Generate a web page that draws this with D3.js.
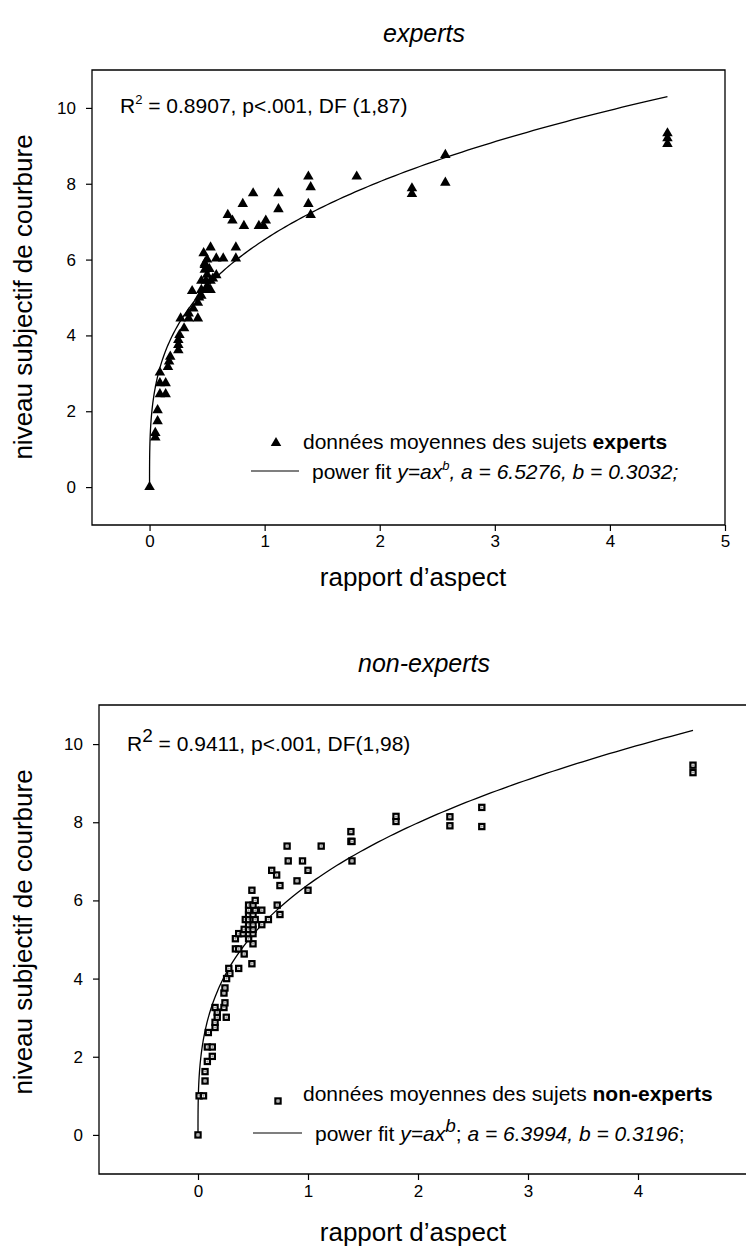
<!DOCTYPE html>
<html>
<head>
<meta charset="utf-8">
<script src="https://cdnjs.cloudflare.com/ajax/libs/d3/7.8.5/d3.min.js"></script>
<style>
body { margin: 0; background: #fff; }
svg { display: block; font-family: "Liberation Sans", Arial, Helvetica, sans-serif; }
</style>
</head>
<body>
<svg id="chart" width="746" height="1254"></svg>
<script>
// mean subjective curvature per aspect ratio, experts
var expertsPoints = [
    [0, 0], [0.05, 1.31], [0.05, 1.43], [0.07, 1.74], [0.07, 2.03],
    [0.09, 2.45], [0.14, 2.45], [0.09, 2.74], [0.14, 2.74], [0.09, 3.02],
    [0.16, 3.17], [0.17, 3.31], [0.18, 3.44], [0.25, 3.61], [0.25, 3.75],
    [0.25, 3.88], [0.26, 4.01], [0.30, 4.19], [0.27, 4.45], [0.34, 4.45],
    [0.42, 4.45], [0.34, 4.58], [0.38, 4.71], [0.42, 4.86], [0.43, 5.0],
    [0.45, 5.05], [0.37, 5.17], [0.45, 5.2], [0.49, 5.2], [0.53, 5.2],
    [0.5, 5.3], [0.45, 5.44], [0.49, 5.44], [0.53, 5.44], [0.55, 5.5],
    [0.58, 5.59], [0.5, 5.6], [0.48, 5.73], [0.52, 5.75], [0.48, 5.86],
    [0.48, 5.9], [0.5, 6.0], [0.47, 6.17], [0.53, 6.32], [0.58, 6.03],
    [0.64, 6.03], [0.75, 6.03], [0.75, 6.32], [0.68, 7.18], [0.72, 7.03],
    [0.81, 7.47], [0.82, 6.89], [0.90, 7.75], [0.95, 6.89], [0.99, 6.89],
    [1.01, 7.03], [1.12, 7.75], [1.12, 7.33], [1.38, 8.19], [1.40, 7.91],
    [1.38, 7.47], [1.40, 7.18], [1.80, 8.19], [2.28, 7.88], [2.28, 7.73],
    [2.57, 8.76], [2.57, 8.03], [4.5, 9.33], [4.5, 9.20], [4.5, 9.05]
];

// same, non-experts
var nonExpertsPoints = [
    [0, 0], [0.01, 1.0], [0.05, 1.0], [0.064, 1.38], [0.064, 1.62],
    [0.085, 1.88], [0.13, 2.01], [0.085, 2.25], [0.13, 2.25], [0.094, 2.62],
    [0.155, 2.75], [0.155, 2.88], [0.175, 3.01], [0.257, 3.01], [0.175, 3.14],
    [0.155, 3.26], [0.236, 3.26], [0.245, 3.38], [0.236, 3.63], [0.245, 3.76],
    [0.26, 4.0], [0.29, 4.13], [0.28, 4.26], [0.37, 4.26], [0.49, 4.38],
    [0.42, 4.63], [0.34, 4.76], [0.37, 4.76], [0.5, 4.89], [0.34, 5.02],
    [0.46, 5.02], [0.37, 5.15], [0.41, 5.15], [0.46, 5.15], [0.5, 5.15],
    [0.42, 5.26], [0.46, 5.26], [0.5, 5.26], [0.46, 5.38], [0.5, 5.38],
    [0.58, 5.38], [0.43, 5.51], [0.46, 5.51], [0.5, 5.51], [0.52, 5.51],
    [0.64, 5.51], [0.46, 5.64], [0.5, 5.64], [0.745, 5.64], [0.46, 5.75],
    [0.52, 5.75], [0.58, 5.75], [0.46, 5.88], [0.5, 5.88], [0.72, 5.88],
    [0.52, 6.0], [0.49, 6.26], [1.0, 6.26], [0.745, 6.38], [0.9, 6.5],
    [0.715, 6.65], [0.67, 6.77], [1.0, 6.77], [0.82, 7.01], [0.95, 7.01],
    [1.40, 7.01], [0.81, 7.39], [1.12, 7.39], [1.39, 7.51], [1.40, 7.51],
    [1.39, 7.76], [1.80, 8.02], [1.80, 8.15], [2.29, 7.91], [2.29, 8.14],
    [2.58, 7.89], [2.58, 8.38], [4.5, 9.27], [4.5, 9.46]
];

var yTicks = [0, 2, 4, 6, 8, 10];
var xTicksExperts = [0, 1, 2, 3, 4, 5];
var xTicksNonExperts = [0, 1, 2, 3, 4];

// power fit y = a * x^b
var fitExperts = [6.5276, 0.3032];
var fitNonExperts = [6.3994, 0.3196];
var fitMaxX = 4.5;

var svg = d3.select("#chart");

function drawPanel(p) {
    var x = d3.scaleLinear().domain(p.xDomain).range([p.left, p.right]);
    var y = d3.scaleLinear().domain([-1, 11]).range([p.bottom, p.top]);
    var g = svg.append("g");

    // frame
    g.append("path")
      .attr("fill", "none")
      .attr("stroke", "black")
      .attr("stroke-width", 1.3)
      .attr("d", "M " + p.left + " " + p.top + " H " + p.right + " V " + p.bottom + " H " + p.left + " Z");

    var xAxis = d3.axisBottom(x).tickValues(p.xTicks).tickSize(6).tickPadding(p.xPad).tickFormat(d3.format("d"));
    var gx = g.append("g").attr("transform", "translate(0," + p.bottom + ")").call(xAxis);
    gx.select(".domain").remove();
    gx.selectAll("line").attr("stroke-width", 1.2);
    gx.selectAll("text").attr("font-size", 17).attr("font-family", null);

    var yAxis = d3.axisLeft(y).tickValues(yTicks).tickSize(6).tickPadding(10).tickFormat(d3.format("d"));
    var gy = g.append("g").attr("transform", "translate(" + p.left + ",0)").call(yAxis);
    gy.select(".domain").remove();
    gy.selectAll("line").attr("stroke-width", 1.2);
    gy.selectAll("text").attr("font-size", 17).attr("font-family", null);

    // fit curve, dense near zero where it rises steeply
    var xs = d3.range(0, 1.0001, 0.005).map(function(t) { return fitMaxX * t * t * t; });
    var line = d3.line()
      .x(function(d) { return x(d); })
      .y(function(d) { return y(p.fit[0] * Math.pow(d, p.fit[1])); });
    g.append("path")
      .datum(xs)
      .attr("fill", "none")
      .attr("stroke", "black")
      .attr("stroke-width", 1.3)
      .attr("d", line);

    // points
    if (p.marker == "triangle") {
        g.selectAll(".pt").data(p.points).enter()
          .append("path")
          .attr("transform", function(d) { return "translate(" + x(d[0]) + "," + y(d[1]) + ")"; })
          .attr("d", d3.symbol(d3.symbolTriangle).size(48))
          .attr("fill", "black");
    } else {
        var pts = g.selectAll(".pt").data(p.points).enter()
          .append("g")
          .attr("transform", function(d) { return "translate(" + x(d[0]) + "," + y(d[1]) + ")"; });
        squareMarker(pts);
    }

    // titles
    svg.append("text")
      .attr("x", p.titleX).attr("y", p.titleY)
      .attr("text-anchor", "middle")
      .attr("font-size", 25)
      .attr("font-style", "italic")
      .text(p.title);

    svg.append("text")
      .attr("x", 413).attr("y", p.xTitleY)
      .attr("text-anchor", "middle")
      .attr("font-size", 26)
      .text("rapport d\u2019aspect");

    svg.append("text")
      .attr("transform", "translate(32," + p.yTitleY + ") rotate(-90)")
      .attr("text-anchor", "middle")
      .attr("font-size", 26)
      .text("niveau subjectif de courbure");

    // stats
    var st = svg.append("text")
      .attr("x", p.statsX).attr("y", p.statsY)
      .attr("font-size", 21);
    st.append("tspan").text("R");
    st.append("tspan").attr("font-size", p.supSize).attr("dy", -9).text("2");
    st.append("tspan").attr("dy", 9).text(p.stats);
}

function squareMarker(sel) {
    sel.append("rect")
      .attr("x", -2.6).attr("y", -2.6)
      .attr("width", 5.2).attr("height", 5.2)
      .attr("fill", "white")
      .attr("stroke", "black")
      .attr("stroke-width", 2.2);
    sel.append("circle")
      .attr("r", 1)
      .attr("fill", "#999");
}

drawPanel({
    left: 92, right: 725, top: 70, bottom: 525,
    xDomain: [-0.5, 5], xTicks: xTicksExperts, xPad: 4,
    points: expertsPoints, fit: fitExperts, marker: "triangle",
    title: "experts", titleX: 424, titleY: 42,
    xTitleY: 586, yTitleY: 297,
    statsX: 120, statsY: 113, supSize: 13,
    stats: " = 0.8907, p<.001, DF (1,87)"
});

drawPanel({
    left: 99, right: 759, top: 705, bottom: 1174,
    xDomain: [-0.9, 5.1], xTicks: xTicksNonExperts, xPad: 5,
    points: nonExpertsPoints, fit: fitNonExperts, marker: "square",
    title: "non-experts", titleX: 424, titleY: 672,
    xTitleY: 1241, yTitleY: 932,
    statsX: 127, statsY: 751, supSize: 19,
    stats: " = 0.9411, p<.001, DF(1,98)"
});

// legend, experts
svg.append("path")
  .attr("transform", "translate(276,443)")
  .attr("d", d3.symbol(d3.symbolTriangle).size(48));
var l1 = svg.append("text").attr("x", 303).attr("y", 449).attr("font-size", 21);
l1.append("tspan").text("donn\u00e9es moyennes des sujets ");
l1.append("tspan").attr("font-weight", "bold").text("experts");
svg.append("line")
  .attr("x1", 251).attr("x2", 299).attr("y1", 471).attr("y2", 471)
  .attr("stroke", "black").attr("stroke-width", 1.2);
var l2 = svg.append("text").attr("x", 312).attr("y", 479).attr("font-size", 21);
l2.append("tspan").text("power fit ");
l2.append("tspan").attr("font-style", "italic").text("y=ax");
l2.append("tspan").attr("font-style", "italic").attr("font-size", 13).attr("dy", -9).text("b");
l2.append("tspan").attr("font-style", "italic").attr("dy", 9).text(", a = 6.5276, b = 0.3032;");

// legend, non-experts
var lg = svg.append("g").attr("transform", "translate(278,1101)");
squareMarker(lg);
var l3 = svg.append("text").attr("x", 303).attr("y", 1101).attr("font-size", 21);
l3.append("tspan").text("donn\u00e9es moyennes des sujets ");
l3.append("tspan").attr("font-weight", "bold").text("non-experts");
svg.append("line")
  .attr("x1", 253).attr("x2", 302).attr("y1", 1133).attr("y2", 1133)
  .attr("stroke", "black").attr("stroke-width", 1.2);
var l4 = svg.append("text").attr("x", 315).attr("y", 1141).attr("font-size", 21);
l4.append("tspan").text("power fit ");
l4.append("tspan").attr("font-style", "italic").text("y=ax");
l4.append("tspan").attr("font-style", "italic").attr("font-size", 19).attr("dy", -9).text("b");
l4.append("tspan").attr("dy", 9).text("; ");
l4.append("tspan").attr("font-style", "italic").text("a = 6.3994, b = 0.3196");
l4.append("tspan").text(";");
</script>
</body>
</html>
